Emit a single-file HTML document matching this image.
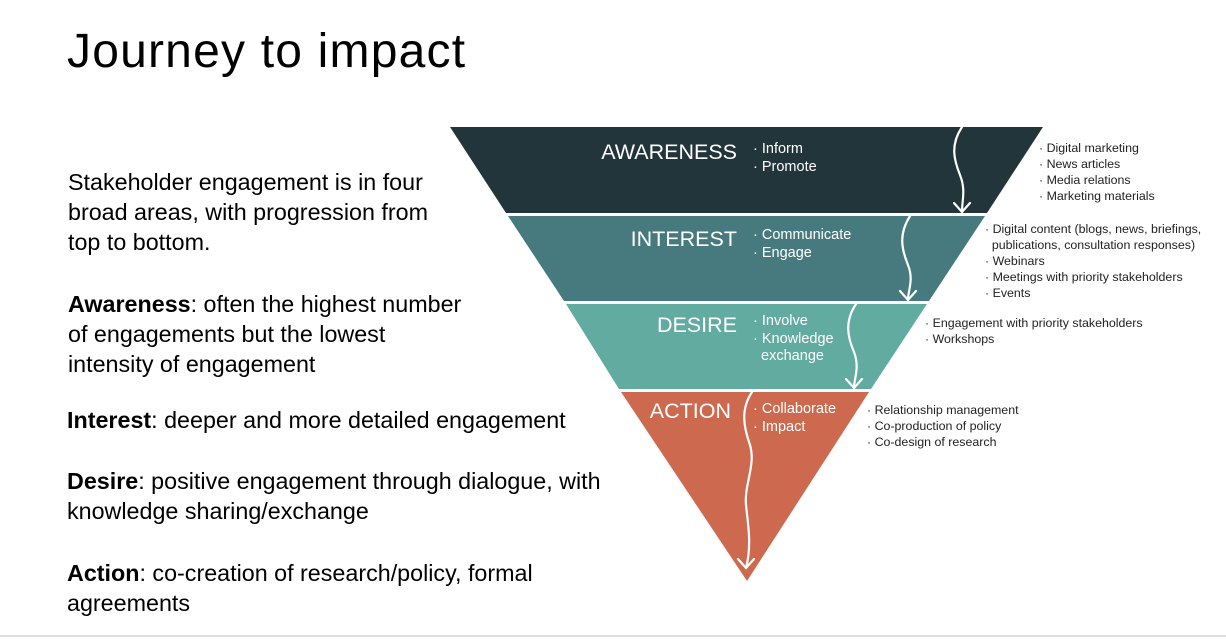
<!DOCTYPE html>
<html><head><meta charset="utf-8"><style>
body{margin:0;width:1226px;height:639px;background:#fff;position:relative;overflow:hidden;font-family:"Liberation Sans",sans-serif;color:#000}
.a{position:absolute;white-space:nowrap}
.t{font-size:23.3px;line-height:30px}
.s{font-size:12.4px;line-height:16px;color:#222}
.h{font-size:21.5px;color:#fff;text-align:right;width:200px}
.w{font-size:14.5px;line-height:17.5px;color:#fff}
</style></head><body>
<div class="a" style="left:67px;top:24px;font-size:48px;letter-spacing:1.2px">Journey to impact</div>
<div class="a t" style="left:68px;top:167px">Stakeholder engagement is in four<br>broad areas, with progression from<br>top to bottom.</div>
<div class="a t" style="left:68px;top:289px"><b>Awareness</b>: often the highest number<br>of engagements but the lowest<br>intensity of engagement</div>
<div class="a t" style="left:67px;top:405px"><b>Interest</b>: deeper and more detailed engagement</div>
<div class="a t" style="left:67px;top:466px"><b>Desire</b>: positive engagement through dialogue, with<br>knowledge sharing/exchange</div>
<div class="a t" style="left:67px;top:558px"><b>Action</b>: co-creation of research/policy, formal<br>agreements</div>
<div class="a" style="left:0;top:635px;width:1226px;height:2px;background:#ddd"></div>
<svg class="a" style="left:0;top:0" width="1226" height="639">
<polygon points="450,127 1043,127 987,213 506,213" fill="#22353a"/>
<polygon points="508,216 985,216 929,301 564,301" fill="#477a7e"/>
<polygon points="566,304 927,304 871,389 619,389" fill="#62aba0"/>
<polygon points="621,392 869,392 747,581" fill="#cd694e"/>
<g fill="none" stroke="#fff" stroke-width="2.2" stroke-linecap="round">
<path d="M962,127 C950,145 954,160 960,175 C966,190 962,200 962,212"/><path d="M954,203 L962,212 L970,203"/>
<path d="M910,216 C898,235 902,250 908,265 C914,280 908,290 908,300"/><path d="M900,291 L908,300 L916,291"/>
<path d="M856,304 C844,322 848,338 854,352 C860,368 854,378 854,388"/><path d="M846,379 L854,388 L862,379"/>
<path d="M752,392 C740,410 744,428 750,445 C756,465 744,485 746,505 C748,525 752,545 746,568"/><path d="M738,559 L746,568 L754,559"/>
</g>
</svg>
<div class="a h" style="left:537px;top:140px">AWARENESS</div>
<div class="a w" style="left:753px;top:141px">· Inform<br>· Promote</div>
<div class="a h" style="left:537px;top:227px">INTEREST</div>
<div class="a w" style="left:753px;top:227px">· Communicate<br>· Engage</div>
<div class="a h" style="left:537px;top:313px">DESIRE</div>
<div class="a w" style="left:753px;top:313px">· Involve<br>· Knowledge<br>&nbsp;&nbsp;exchange</div>
<div class="a h" style="left:531px;top:399px">ACTION</div>
<div class="a w" style="left:753px;top:401px">· Collaborate<br>· Impact</div>
<div class="a s" style="left:1039px;top:140px">· Digital marketing<br>· News articles<br>· Media relations<br>· Marketing materials</div>
<div class="a s" style="left:985px;top:221px">· Digital content (blogs, news, briefings,<br>&nbsp;&nbsp;publications, consultation responses)<br>· Webinars<br>· Meetings with priority stakeholders<br>· Events</div>
<div class="a s" style="left:925px;top:315px">· Engagement with priority stakeholders<br>· Workshops</div>
<div class="a s" style="left:867px;top:402px">· Relationship management<br>· Co-production of policy<br>· Co-design of research</div>
</body></html>
